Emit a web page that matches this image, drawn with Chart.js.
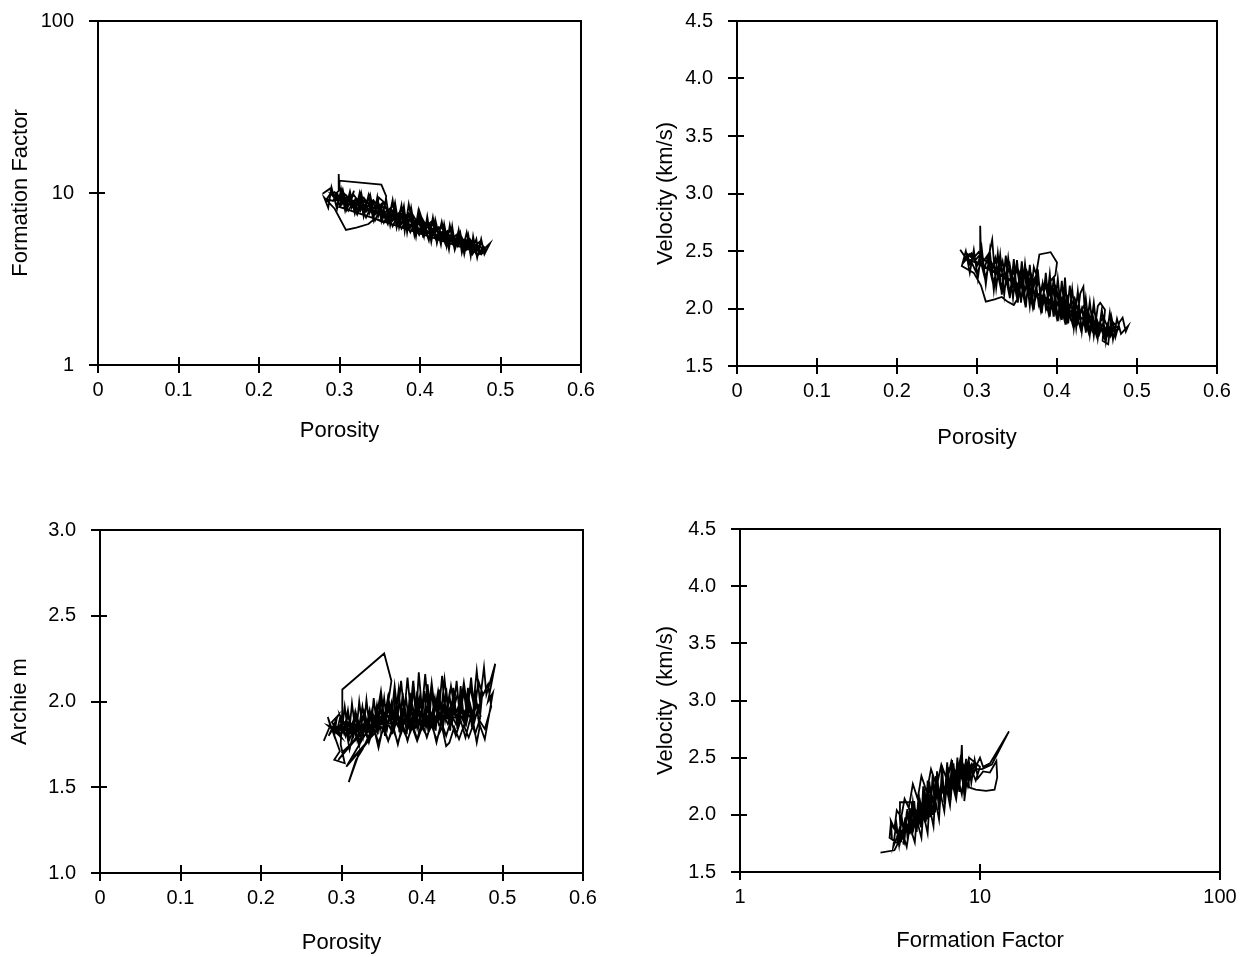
<!DOCTYPE html>
<html>
<head>
<meta charset="utf-8">
<title>Porosity, formation factor and velocity crossplots</title>
<script src="https://cdn.jsdelivr.net/npm/chart.js@4.4.1/dist/chart.umd.min.js"></script>
<style>
  body { margin: 0; background: #fff; }
  #wrap { position: relative; width: 1244px; height: 957px; }
  #wrap canvas { position: absolute; }
</style>
</head>
<body>
<div id="wrap">
  <canvas id="ffPor" width="622" height="478" style="left:0;top:0"></canvas>
  <canvas id="velPor" width="622" height="478" style="left:622px;top:0"></canvas>
  <canvas id="mPor" width="622" height="478" style="left:0;top:478px"></canvas>
  <canvas id="velFf" width="622" height="478" style="left:622px;top:478px"></canvas>
</div>
<script>
// tick values for each axis
const porosityTicks = [0, 0.1, 0.2, 0.3, 0.4, 0.5, 0.6];
const formationTicks = [1, 10, 100];
const velocityTicks = [1.5, 2.0, 2.5, 3.0, 3.5, 4.0, 4.5];
const archieTicks = [1.0, 1.5, 2.0, 2.5, 3.0];

// [porosity, formation factor], in log order
const ffVsPorosity = [
  [0.279,9.9],[0.288,10.6],[0.292,9.6],[0.299,10.3],[0.299,12.9],[0.300,10.2],[0.300,11.8],[0.352,11.2],
  [0.358,9.6],[0.357,8.7],
  [0.349,9.4],[0.343,7.4],[0.338,9.8],[0.331,8.1],[0.327,10.0],[0.322,7.6],[0.315,9.2],[0.318,10.3],
  [0.309,8.0],[0.304,10.5],[0.296,8.4],[0.290,10.8],[0.286,8.2],[0.281,9.4],[0.294,8.1],[0.308,6.1],
  [0.321,6.3],[0.336,6.6],[0.344,7.1],[0.353,6.8],[0.349,8.6],[0.360,6.6],[0.366,9.1],[0.371,6.3],
  [0.377,8.5],[0.381,6.0],[0.386,8.6],[0.393,5.7],[0.398,7.9],[0.404,5.5],[0.401,7.4],[0.411,5.3],
  [0.416,7.2],[0.421,5.1],[0.427,6.8],[0.433,4.9],[0.437,6.5],[0.443,4.7],[0.448,6.1],[0.452,4.5],
  [0.458,5.9],[0.463,4.3],[0.466,5.6],[0.471,4.2],[0.476,5.4],[0.480,4.4],[0.487,5.1],[0.481,4.8],
  [0.473,4.4],
  [0.470,5.4],[0.464,4.5],[0.460,5.7],[0.455,4.4],[0.450,5.9],[0.444,4.8],[0.440,6.4],[0.436,4.7],
  [0.430,6.6],[0.426,5.0],[0.419,7.0],[0.414,5.2],[0.409,7.3],[0.405,5.6],[0.399,7.6],[0.395,5.6],
  [0.389,8.2],[0.384,5.9],[0.380,8.4],[0.374,6.3],[0.369,8.8],[0.363,6.5],[0.358,9.2],[0.352,6.9],
  [0.347,9.5],[0.342,7.0],[0.336,9.7],[0.330,7.3],[0.325,10.0],[0.319,7.6],[0.313,10.2],[0.307,7.9],
  [0.302,10.5],[0.297,8.1],[0.291,10.3],[0.284,9.2],
  [0.292,9.0],[0.297,10.0],[0.303,8.6],[0.309,9.6],[0.315,8.2],[0.320,9.3],[0.326,7.9],[0.331,9.1],
  [0.337,7.6],[0.342,8.8],[0.348,7.3],[0.353,8.5],[0.359,7.0],[0.364,8.1],[0.370,6.7],[0.375,7.8],
  [0.381,6.4],[0.386,7.5],[0.392,6.1],[0.397,7.1],[0.403,5.9],[0.408,6.8],[0.414,5.6],[0.419,6.4],
  [0.425,5.4],[0.430,6.1],[0.436,5.1],[0.441,5.8],[0.447,4.9],[0.452,5.5],[0.458,4.7],[0.463,5.2],
  [0.469,4.5],[0.474,5.0],[0.478,4.6],
  [0.472,4.7],[0.467,5.1],[0.461,4.8],[0.456,5.4],[0.450,5.0],[0.445,5.7],[0.439,5.3],[0.434,6.0],
  [0.428,5.6],[0.423,6.3],[0.417,5.8],[0.412,6.6],[0.406,6.1],[0.401,7.0],[0.395,6.4],[0.390,7.3],
  [0.384,6.7],[0.379,7.7],[0.373,7.0],[0.368,8.0],[0.362,7.3],[0.357,8.3],[0.351,7.6],[0.346,8.6],
  [0.340,7.9],[0.335,8.9],[0.329,8.2],[0.324,9.2],[0.318,8.5],[0.313,9.5],[0.307,8.8],[0.302,9.7],
  [0.296,9.1],[0.290,9.8],
  [0.300,9.2],[0.316,8.8],[0.330,8.2],[0.345,7.8],[0.358,7.4],[0.372,6.9],[0.386,6.6],[0.400,6.2],
  [0.414,5.9],[0.428,5.5],[0.442,5.2],[0.456,4.9],[0.470,4.7],[0.462,5.0],[0.448,5.3],[0.434,5.7],
  [0.420,6.0],[0.406,6.4],[0.392,6.8],[0.378,7.2],[0.364,7.6],[0.350,8.0],[0.336,8.4],[0.322,8.8],
  [0.308,9.2],[0.294,9.6],
  [0.300,8.6],[0.306,9.4],[0.311,8.5],[0.317,9.0],[0.322,8.1],[0.328,8.7],[0.333,7.8],[0.339,8.4],
  [0.344,7.5],[0.350,8.1],[0.355,7.2],[0.361,7.8],[0.366,6.9],[0.372,7.5],[0.377,6.6],[0.383,7.2],
  [0.388,6.3],[0.394,6.9],[0.399,6.0],[0.405,6.6],[0.410,5.8],[0.416,6.2],[0.421,5.5],[0.427,5.9],
  [0.432,5.3],[0.438,5.6],[0.443,5.0],[0.449,5.3],[0.454,4.8],[0.460,5.0],[0.466,4.6],
  [0.300,8.3],[0.305,9.0],[0.311,7.9],[0.316,8.7],[0.322,7.5],[0.327,8.4],[0.333,7.2],[0.338,8.1],
  [0.344,6.9],[0.349,7.8],[0.355,6.7],[0.360,7.5],[0.366,6.4],[0.371,7.2],[0.377,6.2],[0.382,6.9],
  [0.388,5.9],[0.393,6.6],[0.399,5.7],[0.404,6.3],[0.410,5.5],[0.415,6.0],[0.421,5.2],[0.426,5.8],
  [0.432,5.0],[0.437,5.5],[0.443,4.8],[0.448,5.3],[0.454,4.6],[0.459,5.0],[0.465,4.4],[0.470,4.8],
  [0.476,4.4],[0.482,4.7],
  [0.474,5.2],[0.468,4.9],[0.462,5.4],[0.456,5.1],[0.450,5.7],[0.444,5.4],[0.438,6.0],[0.432,5.7],
  [0.426,6.4],[0.420,6.0],[0.414,6.8],[0.408,6.4],[0.402,7.2],[0.396,6.8],[0.390,7.6],[0.384,7.2],
  [0.378,8.0],[0.372,7.5],[0.366,8.4],[0.360,7.9],[0.354,8.8],[0.348,8.3],[0.342,9.1],[0.336,8.6],
  [0.330,9.4],[0.324,8.9],[0.318,9.7],[0.312,9.2],[0.306,9.9],[0.300,9.5],[0.294,10.1],[0.288,9.7]
];

// [porosity, velocity km/s]
const velVsPorosity = [
  [0.279,2.51],[0.286,2.44],[0.282,2.39],[0.293,2.48],[0.298,2.42],[0.304,2.47],[0.304,2.72],[0.305,2.45],
  [0.313,2.40],[0.319,2.60],[0.321,2.42],
  [0.324,2.18],[0.329,2.47],[0.334,2.12],[0.339,2.44],[0.345,2.09],[0.350,2.42],[0.355,2.05],[0.360,2.39],
  [0.366,2.02],[0.371,2.36],[0.374,2.30],[0.378,2.47],[0.392,2.49],[0.400,2.40],[0.398,2.29],[0.392,2.24],
  [0.386,1.98],[0.391,2.30],[0.396,1.93],[0.401,2.26],[0.406,1.90],[0.410,2.27],[0.414,1.87],[0.419,2.17],
  [0.424,1.83],[0.429,2.13],[0.433,2.19],[0.436,1.79],[0.441,2.06],[0.446,1.76],[0.451,2.02],[0.454,2.05],
  [0.460,1.99],[0.457,1.72],[0.464,1.69],[0.468,1.93],[0.473,1.75],[0.478,1.88],[0.482,1.92],[0.486,1.80],
  [0.489,1.85],[0.480,1.78],
  [0.475,1.91],[0.470,1.73],[0.466,1.96],[0.461,1.71],[0.456,1.99],[0.451,1.74],[0.446,2.05],[0.441,1.77],
  [0.436,2.09],[0.431,1.80],[0.426,2.15],[0.421,1.83],[0.416,2.20],[0.411,1.86],[0.406,2.24],[0.401,1.89],
  [0.396,2.28],[0.391,1.93],[0.386,2.31],[0.381,1.96],[0.376,2.34],[0.371,1.99],[0.366,2.38],[0.361,2.01],
  [0.356,2.41],[0.351,2.05],[0.346,2.43],[0.341,2.09],[0.336,2.46],[0.331,2.12],[0.326,2.48],[0.321,2.16],
  [0.316,2.50],[0.311,2.21],[0.306,2.52],[0.301,2.26],[0.296,2.51],[0.291,2.31],[0.286,2.50],[0.281,2.37],
  [0.296,2.31],[0.305,2.20],[0.311,2.06],[0.322,2.08],[0.331,2.10],[0.338,2.06],[0.346,2.03],[0.352,2.10],
  [0.346,2.34],[0.350,2.16],[0.355,2.32],[0.359,2.12],[0.364,2.29],[0.368,2.08],[0.373,2.26],[0.377,2.04],
  [0.382,2.22],[0.386,2.00],[0.391,2.19],[0.395,1.97],[0.400,2.15],[0.404,1.93],[0.409,2.11],[0.413,1.90],
  [0.418,2.06],[0.422,1.86],[0.427,2.01],[0.431,1.83],[0.436,1.97],[0.440,1.80],[0.445,1.93],[0.449,1.78],
  [0.454,1.89],[0.458,1.76],[0.463,1.86],[0.467,1.76],[0.472,1.84],
  [0.467,1.82],[0.462,1.75],[0.458,1.88],[0.453,1.78],[0.449,1.91],[0.444,1.81],[0.440,1.95],[0.435,1.84],
  [0.431,2.00],[0.426,1.88],[0.422,2.04],[0.417,1.92],[0.413,2.09],[0.408,1.96],[0.404,2.13],[0.399,2.00],
  [0.395,2.17],[0.390,2.03],[0.386,2.21],[0.381,2.07],[0.377,2.25],[0.372,2.11],[0.368,2.28],[0.363,2.15],
  [0.359,2.31],[0.354,2.18],[0.350,2.35],[0.345,2.21],[0.341,2.38],[0.336,2.24],[0.332,2.41],[0.327,2.28],
  [0.323,2.44],[0.318,2.31],[0.314,2.46],[0.309,2.34],[0.305,2.48],[0.300,2.37],[0.296,2.47],[0.291,2.39],
  [0.287,2.48],
  [0.300,2.40],[0.314,2.35],[0.328,2.30],[0.342,2.25],[0.356,2.20],[0.370,2.15],[0.384,2.10],[0.398,2.05],
  [0.412,2.00],[0.426,1.94],[0.440,1.88],[0.454,1.83],[0.468,1.80],[0.478,1.82],[0.460,1.81],[0.446,1.86],
  [0.432,1.91],[0.418,1.97],[0.404,2.02],[0.390,2.07],[0.376,2.12],[0.362,2.17],[0.348,2.22],[0.334,2.27],
  [0.320,2.32],[0.306,2.37],[0.292,2.42],
  [0.300,2.30],[0.305,2.40],[0.310,2.26],[0.315,2.37],[0.320,2.22],[0.325,2.33],[0.330,2.17],[0.335,2.30],
  [0.340,2.13],[0.345,2.26],[0.350,2.09],[0.355,2.22],[0.360,2.04],[0.365,2.18],[0.370,2.00],[0.375,2.14],
  [0.380,1.97],[0.385,2.10],[0.390,1.94],[0.395,2.06],[0.400,1.91],[0.405,2.02],[0.410,1.88],[0.415,1.98],
  [0.420,1.85],[0.425,1.94],[0.430,1.81],[0.435,1.90],[0.440,1.78],[0.445,1.86],[0.450,1.75],[0.455,1.83],
  [0.460,1.73],[0.465,1.81],[0.470,1.76],[0.476,1.83],
  [0.470,1.88],[0.464,1.82],[0.458,1.93],[0.452,1.86],[0.446,1.98],[0.440,1.90],[0.434,2.03],[0.428,1.95],
  [0.422,2.09],[0.416,2.00],[0.410,2.14],[0.404,2.05],[0.398,2.19],[0.392,2.10],[0.386,2.24],[0.380,2.15],
  [0.374,2.29],[0.368,2.20],[0.362,2.33],[0.356,2.25],[0.350,2.37],[0.344,2.29],[0.338,2.41],[0.332,2.33],
  [0.326,2.44],[0.320,2.37],[0.314,2.47],[0.308,2.41],[0.302,2.49],[0.296,2.44],[0.290,2.48]
];

// [porosity, Archie cementation exponent m]
const mVsPorosity = [
  [0.278,1.77],[0.286,1.86],[0.283,1.91],[0.291,1.80],[0.294,1.90],[0.289,1.83],[0.298,1.71],[0.291,1.66],
  [0.304,1.64],[0.299,1.75],[0.301,1.95],[0.301,2.07],[0.353,2.28],[0.362,2.12],[0.357,1.96],[0.349,2.02],
  [0.342,1.90],[0.334,1.80],[0.326,1.72],[0.318,1.66],[0.309,1.53],[0.322,1.70],[0.330,1.75],[0.338,1.80],
  [0.344,1.92],[0.349,2.06],[0.353,1.90],[0.358,2.03],[0.362,1.91],[0.366,2.09],[0.370,1.92],[0.374,2.12],
  [0.378,1.93],[0.382,2.14],[0.386,1.94],[0.390,2.08],[0.393,1.93],[0.396,2.17],[0.400,1.95],[0.404,2.16],
  [0.408,1.94],[0.412,2.11],[0.416,1.95],[0.420,2.06],[0.424,1.95],[0.428,2.13],[0.432,1.96],[0.436,2.09],
  [0.440,1.97],[0.444,2.04],[0.448,1.98],[0.452,2.11],[0.456,1.98],[0.460,2.08],[0.464,1.99],[0.468,2.18],
  [0.472,2.00],[0.477,2.20],[0.480,2.04],[0.491,2.22],[0.482,2.00],[0.488,2.05],[0.484,1.94],
  [0.478,1.78],[0.472,1.86],[0.468,1.76],[0.464,1.87],[0.458,1.79],[0.452,1.86],[0.446,1.78],[0.440,1.85],
  [0.434,1.76],[0.430,1.74],[0.425,1.85],[0.418,1.78],[0.412,1.86],[0.406,1.80],[0.400,1.85],[0.394,1.77],
  [0.388,1.85],[0.382,1.78],[0.376,1.84],[0.370,1.76],[0.364,1.84],[0.358,1.77],[0.352,1.84],[0.346,1.76],
  [0.340,1.84],[0.334,1.78],[0.328,1.85],[0.322,1.77],[0.316,1.85],[0.310,1.78],[0.304,1.86],[0.298,1.80],
  [0.292,1.86],[0.284,1.80],[0.296,1.92],[0.288,1.88],[0.300,1.79],[0.283,1.86],[0.295,1.84],
  [0.298,1.90],[0.303,1.82],[0.308,1.92],[0.313,1.83],[0.318,1.93],[0.323,1.83],[0.328,1.94],[0.333,1.84],
  [0.338,1.95],[0.343,1.84],[0.348,1.96],[0.353,1.85],[0.358,1.96],[0.363,1.85],[0.368,1.97],[0.373,1.86],
  [0.378,1.98],[0.383,1.86],[0.388,1.98],[0.393,1.87],[0.398,1.99],[0.403,1.87],[0.408,1.99],[0.413,1.88],
  [0.418,2.00],[0.423,1.88],[0.428,2.00],[0.433,1.89],[0.438,2.01],[0.443,1.89],[0.448,2.01],[0.453,1.90],
  [0.458,2.00],[0.463,1.90],[0.468,1.99],[0.473,1.91],
  [0.470,1.97],[0.465,1.88],[0.460,1.98],[0.455,1.87],[0.450,1.97],[0.445,1.87],[0.440,1.97],[0.435,1.86],
  [0.430,1.96],[0.425,1.86],[0.420,1.96],[0.415,1.85],[0.410,1.95],[0.405,1.85],[0.400,1.95],[0.395,1.84],
  [0.390,1.94],[0.385,1.84],[0.380,1.93],[0.375,1.83],[0.370,1.93],[0.365,1.83],[0.360,1.92],[0.355,1.82],
  [0.350,1.92],[0.345,1.82],[0.340,1.91],[0.335,1.81],[0.330,1.91],[0.325,1.81],[0.320,1.90],[0.315,1.80],
  [0.310,1.89],[0.305,1.80],[0.300,1.88],[0.295,1.81],
  [0.301,1.86],[0.306,1.89],[0.311,1.85],[0.316,1.90],[0.321,1.86],[0.326,1.91],[0.331,1.86],[0.336,1.92],
  [0.341,1.87],[0.346,1.93],[0.351,1.87],[0.356,1.93],[0.361,1.88],[0.366,1.94],[0.371,1.88],[0.376,1.95],
  [0.381,1.89],[0.386,1.95],[0.391,1.89],[0.396,1.96],[0.401,1.90],[0.406,1.96],[0.411,1.90],[0.416,1.97],
  [0.421,1.91],[0.426,1.97],[0.431,1.91],[0.436,1.98],[0.441,1.92],[0.446,1.98],[0.451,1.92],[0.456,1.97],
  [0.461,1.93],[0.466,1.96],
  [0.462,1.89],[0.457,1.93],[0.452,1.88],[0.447,1.93],[0.442,1.87],[0.437,1.92],[0.432,1.87],[0.427,1.92],
  [0.422,1.86],[0.417,1.91],[0.412,1.86],[0.407,1.91],[0.402,1.85],[0.397,1.90],[0.392,1.85],[0.387,1.90],
  [0.382,1.84],[0.377,1.89],[0.372,1.84],[0.367,1.88],[0.362,1.83],[0.357,1.88],[0.352,1.83],[0.347,1.87],
  [0.342,1.82],[0.337,1.87],[0.332,1.82],[0.327,1.86],[0.322,1.81],[0.317,1.86],[0.312,1.81],[0.307,1.85],
  [0.302,1.82],[0.297,1.86],[0.290,1.84],
  [0.300,1.81],[0.304,1.97],[0.309,1.79],[0.313,1.99],[0.318,1.80],[0.322,2.00],[0.327,1.81],[0.331,2.01],
  [0.336,1.80],[0.340,2.02],[0.345,1.81],[0.349,2.03],[0.354,1.80],[0.358,2.04],[0.363,1.81],[0.367,2.04],
  [0.372,1.82],[0.376,2.05],[0.381,1.81],[0.385,2.05],[0.390,1.82],[0.394,2.06],[0.399,1.83],[0.403,2.06],
  [0.408,1.82],[0.412,2.07],[0.417,1.83],[0.421,2.07],[0.426,1.84],[0.430,2.08],[0.435,1.83],[0.439,2.08],
  [0.444,1.84],[0.448,2.09],[0.453,1.85],[0.457,2.08],[0.462,1.85],[0.466,2.07],[0.471,1.86],[0.475,2.05],
  [0.470,2.12],[0.465,1.93],[0.461,2.14],[0.456,1.92],[0.452,2.06],[0.447,1.91],[0.443,2.12],[0.438,1.90],
  [0.434,2.04],[0.429,1.90],[0.425,2.15],[0.420,1.89],[0.416,2.02],[0.411,1.88],[0.407,2.10],[0.402,1.88],
  [0.398,2.05],[0.393,1.87],[0.389,2.12],[0.384,1.87],[0.380,2.03],[0.375,1.86],[0.371,2.07],[0.366,1.86],
  [0.362,1.99],[0.357,1.85],[0.353,2.02],[0.348,1.84],[0.344,1.98],[0.339,1.84],[0.335,1.95],[0.330,1.83],
  [0.326,1.97],[0.321,1.83],[0.317,1.94],[0.312,1.82],[0.308,1.95],[0.303,1.82],[0.298,1.92],
  [0.305,1.86],[0.310,1.72],[0.316,1.84],[0.322,1.74],[0.328,1.85],[0.334,1.76],[0.340,1.85],[0.346,1.73],
  [0.352,1.86],[0.358,1.77],[0.364,1.86],[0.370,1.75],[0.376,1.87],[0.382,1.77],[0.388,1.87],[0.394,1.78],
  [0.400,1.88],[0.406,1.79],[0.412,1.88],[0.418,1.76],[0.424,1.88],[0.430,1.80],[0.436,1.89],[0.442,1.80],
  [0.448,1.89],[0.454,1.79],[0.460,1.90],[0.466,1.81],[0.472,1.90],
  [0.470,1.90],[0.478,1.84],[0.486,1.97],[0.482,2.10],[0.474,2.02],[0.468,1.92],
  [0.330,1.86],[0.296,1.66],[0.318,1.78],[0.300,1.70],[0.336,1.86],[0.306,1.62],[0.328,1.74],[0.312,1.66],
  [0.344,1.83]
];

// [formation factor, velocity km/s]
const velVsFormation = [
  [3.85,1.67],[4.40,1.69],[4.55,1.75],[4.20,1.80],[4.25,1.92],[4.45,1.86],[4.70,1.78],[4.62,2.02],
  [4.64,2.11],[5.20,2.11],[5.20,2.00],[4.95,2.02],
  [4.80,1.74],[4.90,1.98],[5.00,1.78],[5.10,2.06],[5.22,1.82],[5.32,2.12],[5.45,1.85],[5.55,2.20],
  [5.68,1.89],[5.80,2.25],[5.95,1.94],[6.05,2.30],[6.20,1.98],[6.35,2.35],[6.50,2.02],[6.62,2.38],
  [6.80,2.07],[6.95,2.43],[7.10,2.11],[7.30,2.46],[7.45,2.15],[7.65,2.48],[7.85,2.18],[8.05,2.50],
  [8.20,2.20],[8.40,2.61],[8.50,2.24],[8.75,2.49],[8.60,2.12],[9.00,2.46],[9.20,2.28],[9.50,2.48],
  [9.80,2.32],[10.3,2.38],[11.0,2.37],[11.7,2.47],[11.8,2.33],[11.5,2.22],[10.6,2.21],[9.60,2.22],
  [9.00,2.24],
  [8.90,2.44],[8.55,2.22],[8.30,2.47],[8.00,2.18],[7.75,2.45],[7.55,2.13],[7.35,2.42],[7.15,2.09],
  [6.95,2.37],[6.75,2.04],[6.55,2.34],[6.35,2.00],[6.15,2.29],[6.00,1.96],[5.85,2.23],[5.70,1.92],
  [5.55,2.17],[5.40,1.87],[5.25,2.11],[5.10,1.83],[4.98,2.05],[4.85,1.79],[4.72,1.98],[4.60,1.74],
  [4.48,1.93],[4.35,1.72],
  [4.50,1.80],[4.62,1.88],[4.72,1.80],[4.85,1.94],[4.96,1.85],[5.10,1.99],[5.22,1.90],[5.36,2.05],
  [5.50,1.95],[5.64,2.11],[5.78,2.00],[5.94,2.16],[6.08,2.05],[6.25,2.21],[6.40,2.10],[6.58,2.26],
  [6.74,2.15],[6.92,2.30],[7.10,2.20],[7.30,2.34],[7.50,2.24],[7.72,2.38],[7.92,2.28],[8.15,2.41],
  [8.40,2.32],[8.65,2.43],[8.90,2.35],[9.20,2.44],[9.45,2.37],[9.75,2.45],[10.0,2.50],[10.3,2.42],
  [11.0,2.45],[13.2,2.73],[11.2,2.44],[10.2,2.40],
  [9.60,2.40],[9.35,2.44],[9.10,2.34],[8.85,2.42],[8.55,2.30],[8.30,2.39],[8.05,2.26],[7.82,2.35],
  [7.60,2.21],[7.40,2.31],[7.20,2.17],[7.00,2.27],[6.82,2.12],[6.65,2.22],[6.48,2.07],[6.30,2.17],
  [6.15,2.02],[6.00,2.12],[5.85,1.97],[5.70,2.07],[5.57,1.93],[5.42,2.02],[5.28,1.88],[5.15,1.97],
  [5.02,1.84],[4.90,1.92],[4.77,1.80],[4.65,1.86],[4.52,1.76],
  [4.60,1.82],[5.00,1.91],[5.40,1.98],[5.80,2.05],[6.20,2.12],[6.60,2.18],[7.00,2.23],[7.40,2.27],
  [7.80,2.31],[8.20,2.35],[8.70,2.38],[9.20,2.40],[8.60,2.36],[8.00,2.31],[7.50,2.26],[7.00,2.20],
  [6.50,2.14],[6.00,2.07],[5.50,2.00],[5.10,1.93],[4.70,1.85],
  [4.60,1.72],[4.75,1.85],[4.95,1.72],[5.10,1.90],[5.35,1.76],[5.45,1.96],[5.70,1.80],[5.80,2.02],
  [6.05,1.84],[6.15,2.08],[6.40,1.90],[6.50,2.14],[6.75,1.96],[6.85,2.19],[7.10,2.03],[7.25,2.24],
  [7.50,2.08],[7.65,2.28],[7.95,2.14],[8.10,2.32],[8.40,2.18],[8.60,2.36],[8.90,2.25],[9.20,2.40],
  [9.60,2.30],[10.0,2.42],
  [9.00,2.50],[8.70,2.38],[8.30,2.50],[8.00,2.34],[7.60,2.47],[7.30,2.30],[6.90,2.44],[6.60,2.25],
  [6.25,2.40],[6.00,2.20],[5.70,2.34],[5.50,2.14],[5.25,2.27],[5.05,2.06],[4.85,2.14],[4.70,1.98],
  [4.50,2.04],[4.40,1.88],[4.25,1.95],[4.30,1.78]
];

Chart.defaults.font.family = "'Liberation Sans', Arial, sans-serif";
Chart.defaults.color = '#000';

// box around the plot area plus tick marks that cross the axis lines
const frameTicks = {
  id: 'frameTicks',
  afterDraw(chart) {
    const { ctx, chartArea: a, scales: { x, y } } = chart;
    ctx.save();
    ctx.strokeStyle = '#000';
    ctx.lineWidth = 2;
    ctx.strokeRect(a.left, a.top, a.right - a.left, a.bottom - a.top);
    ctx.beginPath();
    x.ticks.forEach(t => {
      const px = Math.round(x.getPixelForValue(t.value));
      ctx.moveTo(px, a.bottom - 8);
      ctx.lineTo(px, a.bottom + 8);
    });
    y.ticks.forEach(t => {
      const py = Math.round(y.getPixelForValue(t.value));
      ctx.moveTo(a.left - 9, py);
      ctx.lineTo(a.left + 7, py);
    });
    ctx.stroke();
    ctx.restore();
  }
};

function axis(type, ticks, fmt, title, titlePad, min, max, fitSize, isX) {
  return {
    type: type,
    min: min,
    max: max,
    grid: { display: false, drawTicks: false },
    border: { display: false },
    afterBuildTicks: s => { s.ticks = ticks.map(v => ({ value: v })); },
    afterFit: s => {
      // fixed box size so the plot area lands where the layout wants it
      if (isX) { s.height = fitSize; s.paddingLeft = 0; s.paddingRight = 0; }
      else { s.width = fitSize; s.paddingTop = 0; s.paddingBottom = 0; }
    },
    ticks: {
      padding: isX ? 13 : 24,
      font: { size: 20 },
      callback: v => fmt(v)
    },
    title: {
      display: true,
      text: title,
      font: { size: 22 },
      padding: isX ? { top: 0, bottom: titlePad } : { top: titlePad, bottom: 0 }
    }
  };
}

const plain = v => String(v);
const oneDecimal = v => v.toFixed(1);

// canvas is 622x478; frame = plot area edges inside the canvas
function crossplot(id, points, frame, xAxis, yAxis) {
  new Chart(document.getElementById(id), {
    type: 'scatter',
    data: {
      datasets: [{
        data: points.map(([x, y]) => ({ x, y })),
        showLine: true,
        borderColor: '#000',
        borderWidth: 1.8,
        pointRadius: 0,
        tension: 0
      }]
    },
    options: {
      responsive: false,
      animation: false,
      events: [],
      layout: { padding: { left: 0, top: frame.top, right: 622 - frame.right, bottom: 0 } },
      plugins: { legend: { display: false }, tooltip: { enabled: false } },
      scales: {
        x: axis(xAxis.type, xAxis.ticks, xAxis.fmt, xAxis.title, xAxis.pad, xAxis.min, xAxis.max, 478 - frame.bottom, true),
        y: axis(yAxis.type, yAxis.ticks, yAxis.fmt, yAxis.title, yAxis.pad, yAxis.min, yAxis.max, frame.left, false)
      }
    },
    plugins: [frameTicks]
  });
}

crossplot('ffPor', ffVsPorosity, { left: 98, top: 21, right: 581, bottom: 365 },
  { type: 'linear', ticks: porosityTicks, fmt: plain, title: 'Porosity', pad: 34, min: 0, max: 0.6 },
  { type: 'logarithmic', ticks: formationTicks, fmt: plain, title: 'Formation Factor', pad: 8, min: 1, max: 100 });

crossplot('velPor', velVsPorosity, { left: 115, top: 21, right: 595, bottom: 366 },
  { type: 'linear', ticks: porosityTicks, fmt: plain, title: 'Porosity', pad: 27, min: 0, max: 0.6 },
  { type: 'linear', ticks: velocityTicks, fmt: oneDecimal, title: 'Velocity (km/s)', pad: 31, min: 1.5, max: 4.5 });

crossplot('mPor', mVsPorosity, { left: 100, top: 52, right: 583, bottom: 395 },
  { type: 'linear', ticks: porosityTicks, fmt: plain, title: 'Porosity', pad: 0, min: 0, max: 0.6 },
  { type: 'linear', ticks: archieTicks, fmt: oneDecimal, title: 'Archie m', pad: 7, min: 1.0, max: 3.0 });

crossplot('velFf', velVsFormation, { left: 118, top: 51, right: 598, bottom: 394 },
  { type: 'logarithmic', ticks: formationTicks, fmt: plain, title: 'Formation Factor', pad: 2, min: 1, max: 100 },
  { type: 'linear', ticks: velocityTicks, fmt: oneDecimal, title: 'Velocity  (km/s)', pad: 31, min: 1.5, max: 4.5 });
</script>
</body>
</html>
